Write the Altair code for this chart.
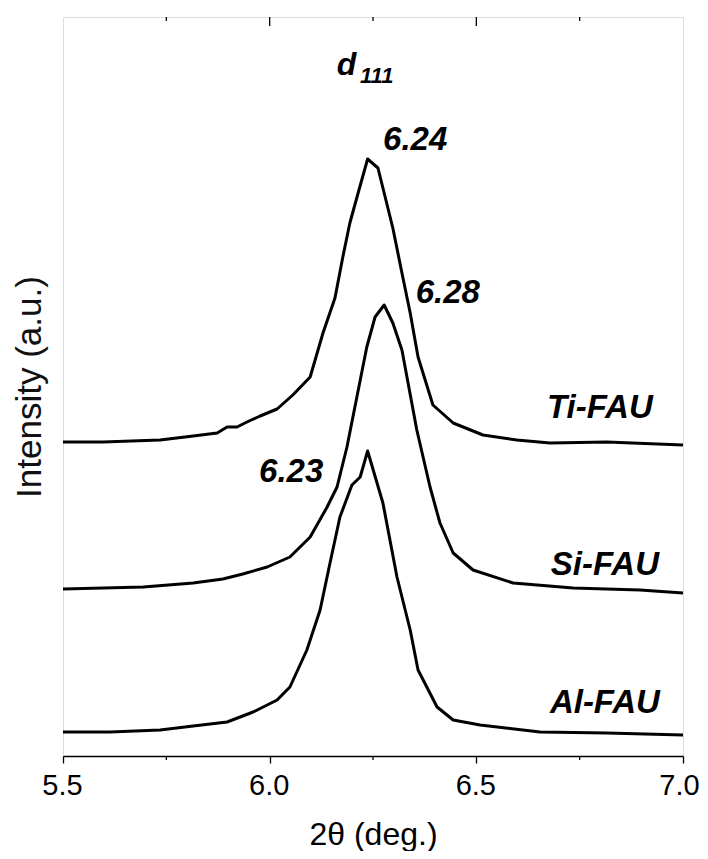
import altair as alt
import pandas as pd

# 2-theta (deg.) and intensity (a.u.)
ti_x = [5.500, 5.597, 5.735, 5.815, 5.873, 5.897, 5.921, 5.945, 5.977, 6.018, 6.056, 6.098,
        6.129, 6.158, 6.177, 6.194, 6.214, 6.237, 6.262, 6.298, 6.320, 6.340, 6.359, 6.395,
        6.444, 6.516, 6.598, 6.678, 6.816, 7.000]
ti_y = [314, 314, 316, 320, 323, 329, 329, 334, 340, 347, 361, 379,
        423, 458, 499, 533, 563, 597, 588, 528, 483, 443, 399, 351,
        333, 321, 316, 313, 314, 311]

si_x = [5.500, 5.694, 5.815, 5.887, 5.935, 5.994, 6.049, 6.098, 6.139, 6.163, 6.187, 6.211,
        6.235, 6.255, 6.277, 6.298, 6.320, 6.356, 6.388, 6.412, 6.444, 6.492, 6.589, 6.734,
        6.896, 7.000]
si_y = [167, 169, 173, 177, 182, 189, 199, 219, 249, 269, 309, 359,
        409, 439, 451, 433, 406, 326, 269, 233, 203, 186, 173, 168,
        166, 163]

al_x = [5.500, 5.614, 5.735, 5.815, 5.897, 5.960, 6.018, 6.049, 6.090, 6.122, 6.146, 6.170,
        6.199, 6.219, 6.237, 6.274, 6.308, 6.340, 6.359, 6.405, 6.444, 6.509, 6.654, 6.816,
        7.000]
al_y = [24, 24, 26, 30, 34, 44, 56, 69, 106, 146, 193, 239,
        271, 279, 305, 253, 179, 126, 86, 49, 36, 31, 24, 23,
        21]

# annotations
ann_text = ["6.24", "6.28", "6.23", "Ti-FAU", "Si-FAU", "Al-FAU"]
ann_x = [6.352, 6.431, 6.052, 6.799, 6.811, 6.811]
ann_y = [606, 453, 274, 338, 181, 43]

d_text = ["d"]
d_x = [6.186]
d_y = [681]
sub_text = ["111"]
sub_x = [6.259]
sub_y = [673]

x_ticks = [5.5, 6.0, 6.5, 7.0]
minor_ticks = [5.75, 6.25, 6.75]
top_major = [6.0, 6.5]

W, H = 620, 739
FONT = "Liberation Sans"

rows = []
for name, xs, ys in [("Ti-FAU", ti_x, ti_y), ("Si-FAU", si_x, si_y), ("Al-FAU", al_x, al_y)]:
    for a, b in zip(xs, ys):
        rows.append({"series": name, "x": a, "y": b})
df = pd.DataFrame(rows)

xscale = alt.Scale(domain=[5.5, 7.0], nice=False, zero=False)
yscale = alt.Scale(domain=[0, H], nice=False, zero=False)

lines = alt.Chart(df).mark_line(color="black", strokeWidth=3, strokeJoin="round").encode(
    x=alt.X("x:Q", scale=xscale,
            axis=alt.Axis(values=x_ticks, format=".1f", title="2θ (deg.)", grid=False,
                          domainColor="black", domainWidth=1.3, tickColor="black", tickWidth=1.3,
                          tickSize=7, labelFont=FONT, labelFontSize=29, labelColor="black",
                          labelPadding=31, labelBaseline="alphabetic", labelFlush=False,
                          labelOverlap=False,
                          labelOffset={"condition": {"test": "datum.value >= 6.99", "value": -4},
                                       "value": -1},
                          titleFont=FONT, titleFontSize=32, titleFontWeight="normal",
                          titleColor="black", titleBaseline="alphabetic", titleY=88)),
    y=alt.Y("y:Q", scale=yscale,
            axis=alt.Axis(title="Intensity (a.u.)", labels=False, ticks=False, domain=False,
                          grid=False, titleFont=FONT, titleFontSize=35,
                          titleFontWeight="normal", titleColor="#111",
                          titleBaseline="alphabetic", titleX=-23)),
    detail="series:N",
    order="x:Q",
)

ann_df = pd.DataFrame({"t": ann_text, "x": ann_x, "y": ann_y})
ann = alt.Chart(ann_df).mark_text(font=FONT, fontSize=33, fontWeight="bold", fontStyle="italic",
                                  align="center", baseline="alphabetic", color="black").encode(
    x=alt.X("x:Q", scale=xscale), y=alt.Y("y:Q", scale=yscale), text="t:N")

d_df = pd.DataFrame({"t": d_text, "x": d_x, "y": d_y})
dmark = alt.Chart(d_df).mark_text(font=FONT, fontSize=32, fontWeight="bold", fontStyle="italic",
                                  align="center", baseline="alphabetic", color="black").encode(
    x=alt.X("x:Q", scale=xscale), y=alt.Y("y:Q", scale=yscale), text="t:N")

s_df = pd.DataFrame({"t": sub_text, "x": sub_x, "y": sub_y})
smark = alt.Chart(s_df).mark_text(font=FONT, fontSize=22, fontWeight="bold", fontStyle="italic",
                                  align="center", baseline="alphabetic", color="black").encode(
    x=alt.X("x:Q", scale=xscale), y=alt.Y("y:Q", scale=yscale), text="t:N")

minor_df = pd.DataFrame({"x": minor_ticks})
bottom_minor = alt.Chart(minor_df).mark_rule(color="black", strokeWidth=1.3).encode(
    x=alt.X("x:Q", scale=xscale), y=alt.value(H), y2=alt.value(H + 4))
top_minor = alt.Chart(minor_df).mark_rule(color="black", strokeWidth=1.3).encode(
    x=alt.X("x:Q", scale=xscale), y=alt.value(0), y2=alt.value(4))
top_df = pd.DataFrame({"x": top_major})
top_maj = alt.Chart(top_df).mark_rule(color="black", strokeWidth=1.3).encode(
    x=alt.X("x:Q", scale=xscale), y=alt.value(0), y2=alt.value(9))

chart = alt.layer(lines, ann, dmark, smark, bottom_minor, top_minor, top_maj).properties(
    width=W, height=H,
    autosize=alt.AutoSizeParams(type="none"),
    padding={"left": 55, "top": 9, "right": 17, "bottom": 95},
).configure_view(stroke="black", strokeWidth=1.3).configure(background="white")

chart.save("out.html", embed_options={"renderer": "svg", "actions": False})
